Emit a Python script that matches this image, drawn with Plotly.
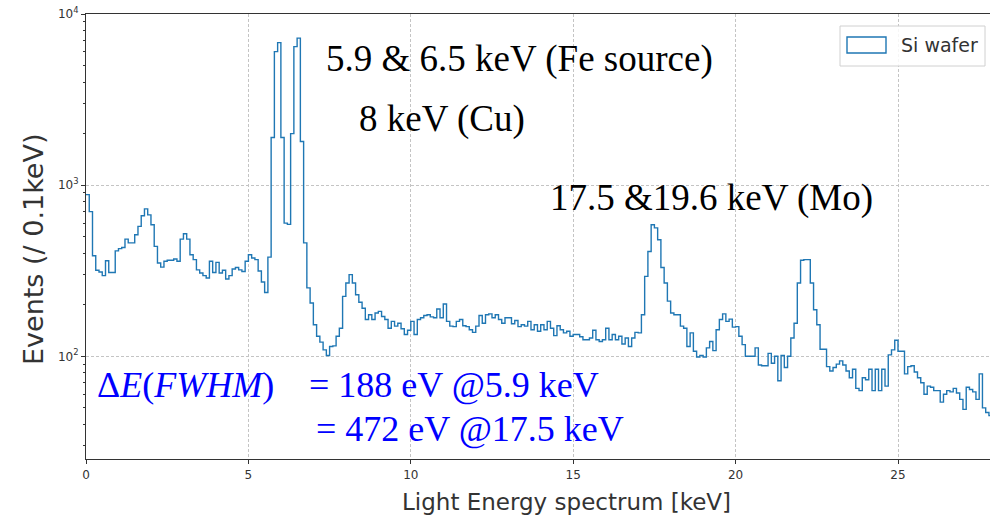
import plotly.graph_objects as go

# ---------------- data ----------------
BIN_WIDTH = 0.1  # keV per bin

counts = [
    880, 700, 387, 318, 311, 296, 362, 309, 309, 413,      # 0.0 - 0.9
    426, 432, 484, 460, 460, 513, 574, 662, 727, 670,      # 1.0 - 1.9
    587, 439, 351, 332, 359, 364, 364, 370, 359, 484,      # 2.0 - 2.9
    520, 484, 392, 367, 320, 307, 296, 287, 359, 309,      # 3.0 - 3.9
    354, 307, 318, 283, 296, 324, 330, 320, 313, 359,      # 4.0 - 4.9
    392, 375, 367, 315, 272, 236, 380, 1900, 6030, 6800,   # 5.0 - 5.9
    1900, 600, 590, 2000, 6450, 7230, 1800, 460, 251, 205, # 6.0 - 6.9
    153, 131, 121, 109, 101, 114, 115, 131, 146, 224,      # 7.0 - 7.9
    268, 300, 268, 229, 207, 191, 164, 175, 164, 179,      # 8.0 - 8.9
    183, 171, 164, 146, 160, 150, 156, 145, 134, 142,      # 9.0 - 9.9
    160, 134, 164, 168, 173, 175, 170, 168, 189, 168,      # 10.0 - 10.9
    202, 160, 150, 149, 160, 164, 151, 149, 143, 138,      # 11.0 - 11.9
    150, 173, 156, 175, 177, 168, 175, 164, 156, 168,      # 12.0 - 12.9
    168, 155, 162, 149, 153, 150, 160, 143, 153, 140,      # 13.0 - 13.9
    153, 143, 160, 146, 132, 151, 143, 137, 140, 131,      # 14.0 - 14.9
    134, 134, 130, 125, 125, 128, 142, 125, 122, 125,      # 15.0 - 15.9
    146, 125, 134, 125, 131, 118, 128, 114, 128, 138,      # 16.0 - 16.9
    137, 175, 293, 410, 587, 563, 480, 330, 268, 210,      # 17.0 - 17.9
    179, 175, 175, 150, 146, 114, 137, 107, 99, 101,       # 18.0 - 18.9
    99, 112, 122, 108, 143, 164, 177, 160, 165, 148,       # 19.0 - 19.9
    149, 131, 117, 100, 100, 100, 112, 89, 88, 88,         # 20.0 - 20.9
    104, 91, 100, 72, 101, 86, 100, 128, 156, 268,         # 21.0 - 21.9
    364, 367, 367, 268, 187, 153, 110, 110, 87, 82,        # 22.0 - 22.9
    86, 90, 94, 89, 82, 75, 84, 65, 63, 75,                # 23.0 - 23.9
    73, 84, 63, 84, 63, 84, 67, 102, 109, 124,             # 24.0 - 24.9
    107, 107, 79, 87, 88, 81, 75, 70, 60, 67,              # 25.0 - 25.9
    66, 63, 63, 54, 60, 63, 62, 65, 61, 56,                # 26.0 - 26.9
    49, 66, 64, 62, 56, 79, 50, 47, 45, 45,                # 27.0 - 27.9
]

x_ticks = [0, 5, 10, 15, 20, 25]
y_ticks = [100, 1000, 10000]
y_tick_text = ["10<sup>2</sup>", "10<sup>3</sup>", "10<sup>4</sup>"]
y_minor = [m * d for d in (10, 100, 1000) for m in range(2, 10)]

series_name = "Si wafer"
peak_labels = ["5.9 & 6.5 keV (Fe source)", "8 keV (Cu)", "17.5 &19.6 keV (Mo)"]
fwhm_lines = ["= 188 eV @5.9 keV", "= 472 eV @17.5 keV"]

# ---------------- derived step coordinates ----------------
edges = [round(i * BIN_WIDTH, 1) for i in range(len(counts) + 1)]
y_step = counts + [counts[-1]]

# ---------------- geometry helpers (pixel -> paper) ----------------
W, H = 990, 519
ML, MR, MT, MB = 86, 0, 14, 60
PW, PH = W - ML - MR, H - MT - MB


def px(x):
    return (x - ML) / PW


def py(y):
    return (H - MB - y) / PH


fig = go.Figure()
fig.add_trace(go.Scatter(
    x=edges, y=y_step, mode="lines",
    line=dict(color="#1f77b4", width=1.4, shape="hv"),
    name=series_name, showlegend=False, hoverinfo="skip",
))

axis_col = "#333333"
grid_col = "#c4c4c4"

fig.update_layout(
    width=W, height=H,
    margin=dict(l=ML, r=MR, t=MT, b=MB),
    paper_bgcolor="white", plot_bgcolor="white",
    font=dict(family="DejaVu Sans", color=axis_col),
    xaxis=dict(
        range=[0, PW / 32.48], tickvals=x_ticks, ticks="outside", ticklen=4,
        tickcolor=axis_col, tickfont=dict(size=12, color=axis_col),
        showline=True, linecolor=axis_col, linewidth=1.2, mirror=True,
        showgrid=True, gridcolor=grid_col, griddash="3px,2px", gridwidth=0.8,
        zeroline=False, automargin=False,
    ),
    yaxis=dict(
        type="log", range=[1.4, 4.0], tickvals=y_ticks, ticktext=y_tick_text,
        ticks="outside", ticklen=4, tickcolor=axis_col,
        tickfont=dict(size=12, color=axis_col),
        showline=True, linecolor=axis_col, linewidth=1.2,
        showgrid=True, gridcolor=grid_col, griddash="3px,2px", gridwidth=0.8,
        zeroline=False, automargin=False,
        minor=dict(tickvals=y_minor, ticks="outside", ticklen=2,
                   tickcolor=axis_col, showgrid=False),
    ),
)

annotations = []
# axis titles
annotations.append(dict(text="Events (/ 0.1keV)", x=px(33), y=py(250), xref="paper", yref="paper",
                        textangle=-90, showarrow=False, xanchor="center", yanchor="middle",
                        font=dict(family="DejaVu Sans", size=27, color=axis_col)))
annotations.append(dict(text="Light Energy spectrum [keV]", x=px(566), y=py(502), xref="paper",
                        yref="paper", showarrow=False, xanchor="center", yanchor="middle",
                        font=dict(family="DejaVu Sans", size=23, color=axis_col)))

serif = "Liberation Serif"
# peak labels
for txt, (lx, ly) in zip(peak_labels, [(324, 59), (357, 119), (548, 198)]):
    annotations.append(dict(text=txt, x=px(lx), y=py(ly), xref="paper", yref="paper",
                            showarrow=False, xanchor="left", yanchor="middle",
                            font=dict(family=serif, size=37, color="black")))

blue = "#0000ff"
annotations.append(dict(text="Δ<i>E</i>(<i>FWHM</i>)", x=px(95), y=py(385), xref="paper", yref="paper",
                        showarrow=False, xanchor="left", yanchor="middle",
                        font=dict(family=serif, size=36, color=blue)))
for txt, (lx, ly) in zip(fwhm_lines, [(307, 385), (314, 429)]):
    annotations.append(dict(text=txt, x=px(lx), y=py(ly), xref="paper", yref="paper",
                            showarrow=False, xanchor="left", yanchor="middle",
                            font=dict(family=serif, size=36, color=blue)))

# legend (drawn like the matplotlib patch legend)
annotations.append(dict(text=series_name, x=px(899), y=py(45), xref="paper", yref="paper",
                        showarrow=False, xanchor="left", yanchor="middle",
                        font=dict(family="DejaVu Sans", size=19, color=axis_col)))
shapes = [
    dict(type="rect", xref="paper", yref="paper", x0=px(840), x1=px(985), y0=py(66), y1=py(26),
         line=dict(color="#d0d0d0", width=1), fillcolor="rgba(255,255,255,0.85)", layer="above"),
    dict(type="rect", xref="paper", yref="paper", x0=px(847), x1=px(886), y0=py(53), y1=py(37),
         line=dict(color="#1f77b4", width=1.4), fillcolor="white", layer="above"),
]
fig.update_layout(annotations=annotations, shapes=shapes)

fig.write_html("out.html", config={"displayModeBar": False},
               post_script="document.body.style.margin='0px';")
